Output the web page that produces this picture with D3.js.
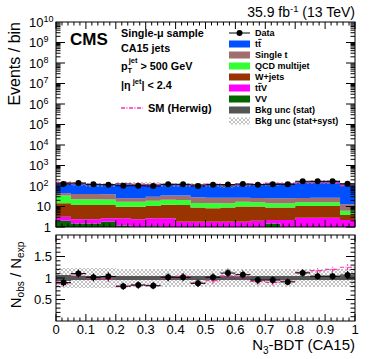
<!DOCTYPE html>
<html>
<head>
<meta charset="utf-8">
<script src="https://cdn.jsdelivr.net/npm/d3@7"></script>
<style>
body{margin:0;background:#fff;}
text{font-family:"Liberation Sans",Arial,Helvetica,sans-serif;}
</style>
</head>
<body>
<div id="chart"></div>
<script>
// bins of the N3-BDT output
const binEdges = [0,0.05,0.1,0.15,0.2,0.25,0.3,0.35,0.4,0.45,0.5,0.55,0.6,0.65,0.7,0.75,0.8,0.85,0.9,0.95,1];
// stacked backgrounds (events / bin)
const ttbar   = [96,86,78,72,102,98,92,85,85,86,87,78,89,96,102,108,126,136,136,108];
const singleT = [10,18.5,18.5,18,8,8,11,13,13,13,12.7,12.7,10,10,10.7,10.7,10,11,11,6.6];
const qcd     = [19.7,10.7,10.7,10.2,7.2,7.2,8.5,9,9,6,6.1,5.3,7,6,5.3,5.3,5.4,5.4,5.4,2.4];
const wjets   = [11.1,9.4,9.4,9.2,7.2,7.4,7.9,9.4,10.2,7.2,6.4,7.2,8.2,8,6.8,6.8,7.8,7.8,7.8,1.6];
const ttV     = [1.2,0.9,0.9,0.85,1.45,1.5,1.55,1.65,1,1,1,1,1,1.2,0.7,1.2,2.05,2.05,2.05,1.3];
const vv      = [2,1.5,1.5,1.8,1.2,0.9,1.1,1,0.8,0.8,0.8,0.8,0.8,0.8,1.5,1,0.8,0.8,0.8,0.9];
const dataObs = [125,140,121,116,103,103,100,121,121,100,116,117,125,116,121,121,170,170,170,129];
// Herwig ratio and relative uncertainties
const herwigRatio = [0.87,1.07,1.0,0.98,0.8,0.83,0.83,1.0,1.04,0.88,0.94,1.05,1.04,0.92,0.9,0.93,1.13,1.17,1.2,1.25];
const statUnc = [0.06,0.05,0.05,0.05,0.05,0.05,0.05,0.05,0.05,0.05,0.05,0.05,0.05,0.05,0.05,0.05,0.04,0.04,0.04,0.05];
const totUnc  = [0.24,0.24,0.23,0.23,0.22,0.22,0.22,0.22,0.22,0.21,0.21,0.21,0.21,0.2,0.2,0.2,0.2,0.2,0.2,0.2];
const xTicks = [0,0.1,0.2,0.3,0.4,0.5,0.6,0.7,0.8,0.9,1];
const ratioTicks = [0.5,1,1.5];

const W = 374, H = 359;
const L = 56, R = 355;
const mTop = 22, mBot = 227, rTop = 235, rBot = 321;

const svg = d3.select("#chart").append("svg")
    .attr("width", W).attr("height", H);

const x = d3.scaleLinear().domain([0,1]).range([L,R]);
const y = d3.scaleLog().domain([1,1e10]).range([mBot,mTop]);
const yr = d3.scaleLinear().domain([0,2]).range([rBot,rTop]);

const defs = svg.append("defs");
const hatch = defs.append("pattern").attr("id","hatch")
    .attr("patternUnits","userSpaceOnUse").attr("width",4).attr("height",4);
hatch.append("path").attr("d","M0,4L4,0M-1,1L1,-1M3,5L5,3M0,0L4,4M-1,3L1,5M3,-1L5,1")
    .attr("stroke","#999").attr("stroke-width",0.6);
defs.append("clipPath").attr("id","clipMain").append("rect")
    .attr("x",L).attr("y",mTop).attr("width",R-L).attr("height",mBot-mTop);
defs.append("clipPath").attr("id","clipRatio").append("rect")
    .attr("x",L).attr("y",rTop).attr("width",R-L).attr("height",rBot-rTop);

// stack
const comps = [
  {v: vv, c: "#006600"},
  {v: ttV, c: "#ff00ff"},
  {v: wjets, c: "#993300"},
  {v: qcd, c: "#33ff33"},
  {v: singleT, c: "#a06e6e"},
  {v: ttbar, c: "#0050ff"}
];
const nb = dataObs.length;
let cum = new Array(nb).fill(0);
const gMain = svg.append("g").attr("clip-path","url(#clipMain)");
const stepArea = d3.area().curve(d3.curveStepAfter)
    .x(d => x(d.e)).y0(d => y(Math.max(d.lo,1))).y1(d => y(Math.max(d.hi,1)));
comps.forEach(function(cp){
    const pts = [];
    for (let i = 0; i < nb; i++){
        pts.push({e: binEdges[i], lo: cum[i], hi: cum[i] + cp.v[i]});
    }
    pts.push({e: 1, lo: pts[nb-1].lo, hi: pts[nb-1].hi});
    gMain.append("path").datum(pts).attr("d", stepArea).attr("fill", cp.c);
    cum = cum.map((c,i) => c + cp.v[i]);
});
const total = cum;

// uncertainty bands on the stack
function band(g, sc, lo, hi, fill){
    g.selectAll(null).data(d3.range(nb)).join("rect")
        .attr("x", i => x(binEdges[i]))
        .attr("width", i => x(binEdges[i+1]) - x(binEdges[i]))
        .attr("y", i => sc(hi(i)))
        .attr("height", i => sc(lo(i)) - sc(hi(i)))
        .attr("fill", fill).attr("shape-rendering","crispEdges");
}
band(gMain, y, i => total[i]*(1-totUnc[i]), i => total[i]*(1+totUnc[i]), "url(#hatch)");
band(gMain, y, i => total[i]*(1-statUnc[i]), i => total[i]*(1+statUnc[i]), "#555");

const pink = "#ff2fa8";
// Herwig total in main panel
const herwigPts = dataObs.map((d,i) => ({e: binEdges[i], v: d/herwigRatio[i]}));
herwigPts.push({e: 1, v: herwigPts[nb-1].v});
gMain.append("path").datum(herwigPts)
    .attr("d", d3.line().curve(d3.curveStepAfter).x(d => x(d.e)).y(d => y(d.v)))
    .attr("fill","none").attr("stroke",pink).attr("stroke-width",1.2)
    .attr("stroke-dasharray","4,1.5,1,1.5");

// data in main panel
const centers = binEdges.slice(0,nb).map((e,i) => (e + binEdges[i+1])/2);
dataObs.forEach(function(d,i){
    gMain.append("line").attr("x1",x(binEdges[i])).attr("x2",x(binEdges[i+1]))
        .attr("y1",y(d)).attr("y2",y(d)).attr("stroke","#000").attr("stroke-width",1);
    gMain.append("line").attr("x1",x(centers[i])).attr("x2",x(centers[i]))
        .attr("y1",y(d-Math.sqrt(d))).attr("y2",y(d+Math.sqrt(d))).attr("stroke","#000");
    gMain.append("circle").attr("cx",x(centers[i])).attr("cy",y(d)).attr("r",3).attr("fill","#000");
});

// ratio panel
const gR = svg.append("g").attr("clip-path","url(#clipRatio)");
band(gR, yr, i => 1-totUnc[i], i => 1+totUnc[i], "url(#hatch)");
band(gR, yr, i => 1-statUnc[i], i => 1+statUnc[i], "#555");
herwigRatio.forEach(function(r,i){
    const e = Math.sqrt(dataObs[i])/dataObs[i]*0.8;
    gR.append("line").attr("x1",x(binEdges[i])).attr("x2",x(binEdges[i+1]))
        .attr("y1",yr(r)).attr("y2",yr(r)).attr("stroke",pink).attr("stroke-width",1.2)
        .attr("stroke-dasharray","4,1.5,1,1.5");
    gR.append("line").attr("x1",x(centers[i])).attr("x2",x(centers[i]))
        .attr("y1",yr(r-e)).attr("y2",yr(r+e)).attr("stroke",pink).attr("stroke-width",1.2)
        .attr("stroke-dasharray","3,1.5");
});
dataObs.forEach(function(d,i){
    const r = d/total[i], e = Math.sqrt(d)/total[i];
    gR.append("line").attr("x1",x(binEdges[i])).attr("x2",x(binEdges[i+1]))
        .attr("y1",yr(r)).attr("y2",yr(r)).attr("stroke","#000");
    gR.append("line").attr("x1",x(centers[i])).attr("x2",x(centers[i]))
        .attr("y1",yr(r-e)).attr("y2",yr(r+e)).attr("stroke","#000");
    gR.append("circle").attr("cx",x(centers[i])).attr("cy",yr(r)).attr("r",3).attr("fill","#000");
});

// frames and ticks (ROOT style, ticks inside on all sides)
const gT = svg.append("g").attr("stroke","#000").attr("stroke-width",1).attr("fill","none");
[[mTop,mBot],[rTop,rBot]].forEach(function(p){
    gT.append("rect").attr("x",L).attr("y",p[0]).attr("width",R-L).attr("height",p[1]-p[0]);
});
function xTickMarks(y0, y1){
    for (let k = 0; k <= 50; k++){
        const v = k/50, len = (k % 5 === 0) ? 7 : 3.5;
        const px = x(v);
        gT.append("line").attr("x1",px).attr("x2",px).attr("y1",y0).attr("y2",y0+len);
        gT.append("line").attr("x1",px).attr("x2",px).attr("y1",y1).attr("y2",y1-len);
    }
}
xTickMarks(mTop, mBot);
xTickMarks(rTop, rBot);
for (let d = 0; d < 10; d++){
    for (let k = 1; k <= 9; k++){
        const v = k*Math.pow(10,d), len = (k === 1) ? 9 : 4.5;
        const py = y(v);
        gT.append("line").attr("x1",L).attr("x2",L+len).attr("y1",py).attr("y2",py);
        gT.append("line").attr("x1",R).attr("x2",R-len).attr("y1",py).attr("y2",py);
    }
}
for (let k = 1; k < 20; k++){
    const py = yr(k/10), len = (k % 5 === 0) ? 9 : 4.5;
    gT.append("line").attr("x1",L).attr("x2",L+len).attr("y1",py).attr("y2",py);
    gT.append("line").attr("x1",R).attr("x2",R-len).attr("y1",py).attr("y2",py);
}

// tick labels
const yLab = svg.append("g").attr("font-size",13).attr("text-anchor","end");
for (let d = 0; d <= 10; d++){
    const t = yLab.append("text").attr("x", d < 2 ? 51 : 44).attr("y", y(Math.pow(10,d)) + 4.5);
    if (d === 0) t.text("1");
    else if (d === 1) t.text("10");
    else {
        t.attr("text-anchor","start").attr("x", 29);
        t.append("tspan").text("10");
        t.append("tspan").attr("font-size",9).attr("dy",-5).text(d);
    }
}
svg.append("g").attr("font-size",13).attr("text-anchor","end")
    .selectAll("text").data(ratioTicks).join("text")
    .attr("x",52).attr("y",d => yr(d)+4.5).text(d => d);
svg.append("g").attr("font-size",13).attr("text-anchor","middle")
    .selectAll("text").data(xTicks).join("text")
    .attr("x",d => x(d)).attr("y",334).text(d => d);

// axis titles
svg.append("text").attr("font-size",16).attr("text-anchor","end")
    .attr("transform","translate(20,"+mTop+") rotate(-90)").text("Events / bin");
const rt = svg.append("text").attr("font-size",15).attr("text-anchor","middle")
    .attr("transform","translate(21,275) rotate(-90)");
rt.append("tspan").text("N");
rt.append("tspan").attr("font-size",10).attr("dy",3).text("obs");
rt.append("tspan").attr("dy",-3).text(" / N");
rt.append("tspan").attr("font-size",10).attr("dy",3).text("exp");
const xt = svg.append("text").attr("font-size",15).attr("text-anchor","end").attr("x",R).attr("y",350);
xt.append("tspan").text("N");
xt.append("tspan").attr("font-size",10).attr("dy",4).text("3");
xt.append("tspan").attr("dy",-4).text("-BDT (CA15)");

// title
const tt = svg.append("text").attr("font-size",14).attr("text-anchor","end").attr("x",R).attr("y",17);
tt.append("tspan").text("35.9 fb");
tt.append("tspan").attr("font-size",9.5).attr("dy",-5).text("-1");
tt.append("tspan").attr("dy",5).text(" (13 TeV)");

// CMS label and selection text
svg.append("text").attr("x",70).attr("y",45).attr("font-size",17).attr("font-weight","bold").text("CMS");
const sel = svg.append("g").attr("font-size",10.8).attr("font-weight","bold");
sel.append("text").attr("x",121).attr("y",37).text("Single-\u03bc sample");
sel.append("text").attr("x",121).attr("y",52).text("CA15 jets");
const pt = sel.append("text").attr("x",121).attr("y",70);
pt.append("tspan").text("p");
pt.append("tspan").attr("font-size",7.5).attr("dy",3).text("T");
pt.append("tspan").attr("font-size",7.5).attr("dx",-3.5).attr("dy",-10).text("jet");
pt.append("tspan").attr("dy",7).text(" > 500 GeV");
const eta = sel.append("text").attr("x",121).attr("y",89);
eta.append("tspan").text("|\u03b7");
eta.append("tspan").attr("font-size",7.5).attr("dy",-5).text(" jet");
eta.append("tspan").attr("dy",5).text("| < 2.4");
svg.append("line").attr("x1",121).attr("x2",143).attr("y1",108).attr("y2",108)
    .attr("stroke",pink).attr("stroke-width",1.5).attr("stroke-dasharray","4,1.5,1,1.5");
sel.append("text").attr("x",148).attr("y",112).attr("font-size",11).text("SM (Herwig)");

// legend
const legItems = [
  {t:"Data", k:"data"},
  {t:"tt", k:"#0050ff", bar:1},
  {t:"Single t", k:"#a06e6e"},
  {t:"QCD multijet", k:"#33ff33"},
  {t:"W+jets", k:"#993300"},
  {t:"ttV", k:"#ff00ff", bar:1},
  {t:"VV", k:"#006600"},
  {t:"Bkg unc (stat)", k:"#555"},
  {t:"Bkg unc (stat+syst)", k:"url(#hatch)"}
];
const leg = svg.append("g").attr("font-size",9).attr("font-weight","bold");
legItems.forEach(function(it,i){
    const cy = 33 + i*11;
    if (it.k === "data"){
        leg.append("line").attr("x1",229).attr("x2",250).attr("y1",cy).attr("y2",cy).attr("stroke","#000");
        leg.append("circle").attr("cx",239.5).attr("cy",cy).attr("r",3).attr("fill","#000");
    } else {
        leg.append("rect").attr("x",229).attr("y",cy-3.5).attr("width",21).attr("height",7).attr("fill",it.k);
    }
    leg.append("text").attr("x",255).attr("y",cy+3.3).text(it.t);
    if (it.bar){
        // bar over the second t
        leg.append("line").attr("x1",258.2).attr("x2",261.6).attr("y1",cy-4.6).attr("y2",cy-4.6)
            .attr("stroke","#000").attr("stroke-width",0.9);
    }
});
</script>
</body>
</html>
